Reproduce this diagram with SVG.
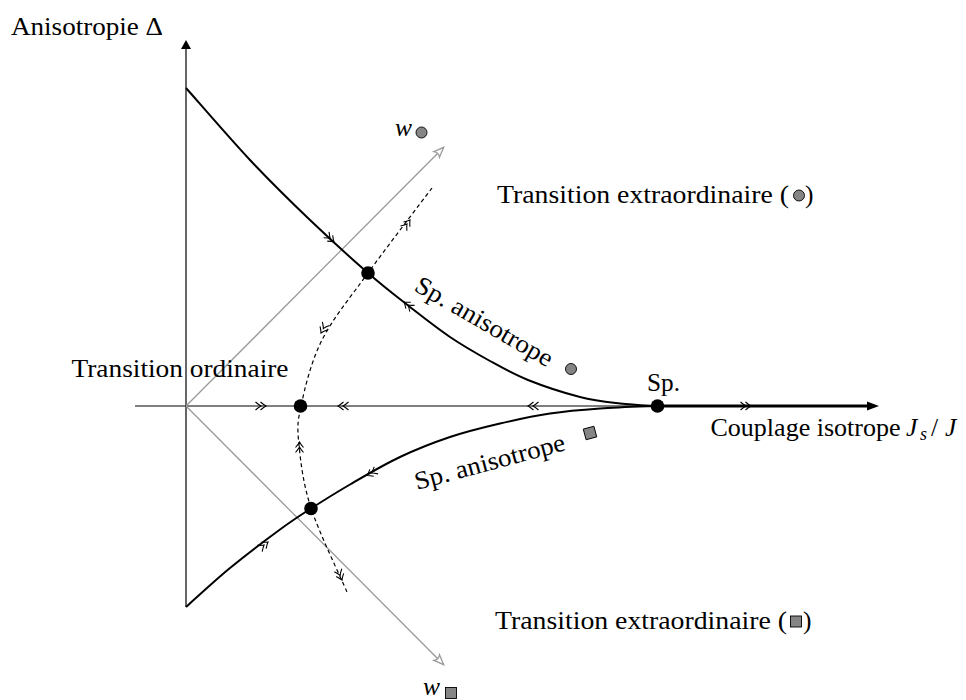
<svg xmlns="http://www.w3.org/2000/svg" xmlns:xlink="http://www.w3.org/1999/xlink" width="966" height="700" viewBox="0 0 966 700">
<style>
.t{font-family:"Liberation Serif","Times New Roman",serif;font-size:25.5px;fill:#000}
.it{font-style:italic}
.crv{fill:none;stroke:#000;stroke-width:2}
.ax{fill:none;stroke:#000;stroke-width:1.2}
.gr{fill:none;stroke:#9a9a9a;stroke-width:1.3}
.dash{fill:none;stroke:#000;stroke-width:1.2;stroke-dasharray:4 3}
.fp{fill:#000}
.sym{fill:#858585;stroke:#000;stroke-width:0.9}
</style>
<defs>
<path id="ch2" d="M-5.5,-4 Q-2,-1 0,0 Q-2,1 -5.5,4 M-10.5,-4 Q-7,-1 -5,0 Q-7,1 -10.5,4" fill="none" stroke="#000" stroke-width="1.1"/>
<marker id="grayhead" markerWidth="14" markerHeight="12" refX="10" refY="5" orient="auto" markerUnits="userSpaceOnUse" viewBox="0 0 14 10">
<path d="M1,1 L11,5 L1,9 Q4,5 1,1 Z" fill="#fff" stroke="#9a9a9a" stroke-width="1.3"/>
</marker>
</defs>
<rect width="966" height="700" fill="#fff"/>

<g id="axes">
<line class="ax" x1="186" y1="607" x2="186" y2="47"/>
<path d="M186,40 L191,49 L181,49 Z" fill="#000"/>
<line class="ax" x1="135" y1="406" x2="657" y2="406"/>
<line x1="657" y1="406" x2="869" y2="406" stroke="#000" stroke-width="3"/>
<path d="M879,406 L867,401.5 L867,410.5 Z" fill="#000"/>
</g>

<g id="connectors">
<line class="gr" x1="186" y1="406" x2="443" y2="148" marker-end="url(#grayhead)"/>
<line class="gr" x1="186" y1="406" x2="443" y2="664" marker-end="url(#grayhead)"/>
<path class="crv" d="M186,88 C196.7,100 229.3,138 250,160 C270.7,182 290.3,201.2 310,220 C329.7,238.8 351.3,258.5 368,273 C384.7,287.5 396.3,296.3 410,307 C423.7,317.7 436.7,328 450,337 C463.3,346 477,353.8 490,361 C503,368.2 513,374 528,380 C543,386 564.7,393.1 580,397 C595.3,400.9 607.2,402 620,403.5 C632.8,405 650.8,405.6 657,406"/>
<path class="crv" d="M186,607 C193.3,600.5 214.3,580.9 230,568 C245.7,555.1 266.5,539.4 280,529.5 C293.5,519.6 299.3,516 311,508.5 C322.7,501 335.2,493.1 350,484.5 C364.8,475.9 383.3,464.9 400,457 C416.7,449.1 433.3,442.6 450,437 C466.7,431.4 483.3,427.4 500,423.5 C516.7,419.6 533.3,416 550,413.5 C566.7,411 582.2,409.75 600,408.5 C617.8,407.3 647.5,406.4 657,406"/>
<path class="dash" d="M432,188 C421.3,202.2 386.3,247.7 368,273 C349.7,298.3 333.2,317.8 322,340 C310.8,362.2 304.8,388.5 301,406 C297.2,423.5 297.3,428 299,445 C300.7,462 303,483.5 311,508 C319,532.5 341,578 347,592"/>
<use xlink:href="#ch2" transform="translate(266,406)"/>
<use xlink:href="#ch2" transform="translate(338,406) rotate(180)"/>
<use xlink:href="#ch2" transform="translate(528,406) rotate(180)"/>
<use xlink:href="#ch2" transform="translate(751,406)"/>
<use xlink:href="#ch2" transform="translate(334,242) rotate(43)"/>
<use xlink:href="#ch2" transform="translate(404,302) rotate(218)"/>
<use xlink:href="#ch2" transform="translate(410,220) rotate(-53)"/>
<use xlink:href="#ch2" transform="translate(321,333) rotate(118)"/>
<use xlink:href="#ch2" transform="translate(299.5,442) rotate(-90)"/>
<use xlink:href="#ch2" transform="translate(342,580) rotate(68)"/>
<use xlink:href="#ch2" transform="translate(268,542) rotate(-38)"/>
<use xlink:href="#ch2" transform="translate(367,475.5) rotate(151)"/>
</g>

<g id="fp-anis-up"><circle class="fp" cx="368" cy="273" r="6.8"/></g>
<g id="fp-ord"><circle class="fp" cx="300.5" cy="406" r="6.8"/></g>
<g id="fp-anis-down"><circle class="fp" cx="311" cy="508.5" r="6.8"/></g>
<g id="fp-sp"><circle class="fp" cx="657.5" cy="406" r="6.8"/>
<text class="t" x="647" y="391" textLength="33" lengthAdjust="spacingAndGlyphs">Sp.</text></g>

<g id="labels">
<text class="t" x="11" y="34.5" textLength="152" lengthAdjust="spacingAndGlyphs">Anisotropie Δ</text>
<text class="t" x="71.5" y="377" textLength="217" lengthAdjust="spacingAndGlyphs">Transition ordinaire</text>
<text class="t" x="710.5" y="435.5" textLength="190" lengthAdjust="spacingAndGlyphs">Couplage isotrope</text>
<text class="t it" x="906" y="435.5">J</text>
<text class="t it" x="920" y="440" style="font-size:18px">s</text>
<text class="t" x="931" y="435.5">/</text>
<text class="t it" x="945" y="435.5">J</text>

<text class="t" x="497" y="202.5" textLength="292" lengthAdjust="spacingAndGlyphs">Transition extraordinaire (</text>
<circle class="sym" cx="799" cy="195.5" r="5.5"/>
<text class="t" x="805" y="202.5">)</text>

<text class="t" x="495" y="628.5" textLength="292" lengthAdjust="spacingAndGlyphs">Transition extraordinaire (</text>
<rect class="sym" x="790.5" y="616" width="11" height="11"/>
<text class="t" x="803" y="628.5">)</text>

<text class="t it" x="395" y="135.5">w</text>
<circle class="sym" cx="421.5" cy="132.5" r="5.5"/>
<text class="t it" x="423" y="695">w</text>
<rect class="sym" x="445.5" y="687.5" width="11" height="11"/>

<text class="t" transform="translate(413,290) rotate(30)" textLength="155" lengthAdjust="spacingAndGlyphs">Sp. anisotrope</text>
<circle class="sym" cx="571" cy="369" r="5.5"/>
<text class="t" transform="translate(417,490) rotate(-15)" textLength="155" lengthAdjust="spacingAndGlyphs">Sp. anisotrope</text>
<rect class="sym" x="-5.5" y="-5.5" width="11" height="11" transform="translate(590,433) rotate(-15)"/>
</g>
</svg>
